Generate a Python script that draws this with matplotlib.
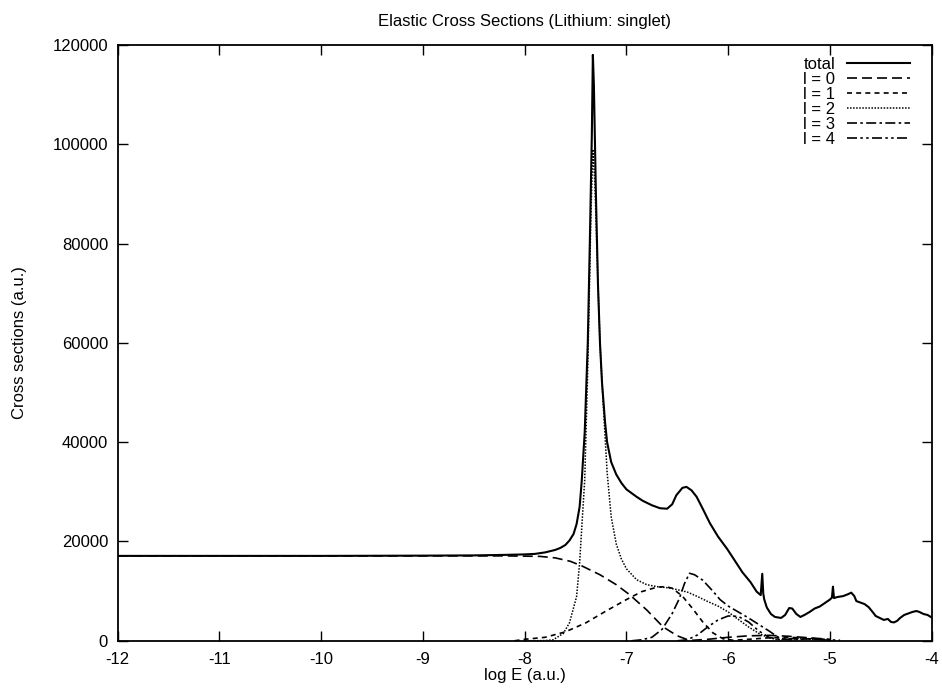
import matplotlib
matplotlib.use("Agg")
import matplotlib.pyplot as plt

plt.rcParams['font.family'] = ['Liberation Sans', 'DejaVu Sans']
plt.rcParams['axes.unicode_minus'] = False

# total cross section
x_total = [-12, -11, -10, -9, -8.5, -8.2, -8.0, -7.9, -7.8, -7.7, -7.65, -7.6, -7.56, -7.52,
           -7.49, -7.46, -7.44, -7.41, -7.38, -7.36, -7.34, -7.33, -7.32, -7.30, -7.28, -7.26,
           -7.24, -7.21, -7.19, -7.15, -7.10, -7.05, -7.0, -6.9, -6.84, -6.75, -6.67, -6.6,
           -6.55, -6.51, -6.45, -6.41, -6.36, -6.31, -6.25, -6.18, -6.1, -6.01, -5.93, -5.86,
           -5.78, -5.72, -5.68, -5.665, -5.655, -5.645, -5.62, -5.58, -5.54, -5.48, -5.44,
           -5.40, -5.37, -5.33, -5.29, -5.25, -5.2, -5.15, -5.1, -5.05, -5.0, -4.98, -4.97,
           -4.96, -4.93, -4.87, -4.82, -4.79, -4.76, -4.74, -4.70, -4.66, -4.62, -4.58, -4.55,
           -4.51, -4.47, -4.43, -4.40, -4.37, -4.34, -4.31, -4.27, -4.23, -4.19, -4.15, -4.12,
           -4.08, -4.04, -4.0]
y_total = [17100, 17100, 17100, 17150, 17200, 17300, 17400, 17500, 17800, 18300, 18700, 19300,
           20200, 21500, 23500, 27000, 32000, 42000, 60000, 80000, 102000, 118000, 112000,
           90000, 72000, 60000, 52000, 44000, 40000, 36000, 33500, 31800, 30500, 29000, 28200,
           27300, 26700, 26600, 27500, 29300, 30800, 31000, 30300, 29000, 26600, 23700, 21000,
           18500, 16000, 13800, 11800, 9900, 9200, 13500, 9500, 8300, 6700, 5400, 4800, 4600,
           5200, 6600, 6500, 5400, 4800, 5200, 5800, 6500, 6900, 7600, 8300, 8700, 10900, 8600,
           8800, 9000, 9400, 9700, 9000, 8000, 7700, 7400, 6800, 5800, 5000, 4600, 4200, 4400,
           3800, 3700, 4000, 4600, 5200, 5500, 5800, 6000, 5800, 5400, 5200, 4700]

# partial waves
x_l0 = [-12, -10, -9, -8.5, -8.2, -8.0, -7.85, -7.7, -7.55, -7.43, -7.26, -7.1, -6.97, -6.8,
        -6.64, -6.5, -6.41, -6.35, -6.2, -6.0, -5.8, -5.6, -5.4, -5.2, -5.0]
y_l0 = [17100, 17100, 17100, 17100, 17100, 17050, 17000, 16700, 16000, 15000, 13300, 11300,
        9300, 6200, 2800, 1000, 300, 100, 300, 700, 1000, 1100, 900, 600, 300]

x_l1 = [-8.1, -8.0, -7.8, -7.6, -7.4, -7.2, -7.0, -6.85, -6.7, -6.62, -6.55, -6.45, -6.35,
        -6.25, -6.15, -6.05, -5.95, -5.8, -5.6, -5.4, -5.2, -5.0]
y_l1 = [0, 300, 700, 1800, 3600, 6000, 8300, 9900, 10800, 10900, 10600, 9000, 6500, 3800,
        1600, 400, 100, 300, 600, 700, 500, 200]

x_l2 = [-8.0, -7.8, -7.72, -7.62, -7.56, -7.49, -7.46, -7.43, -7.41, -7.38, -7.35, -7.33,
        -7.31, -7.28, -7.26, -7.24, -7.19, -7.15, -7.10, -7.05, -7.0, -6.9, -6.8, -6.7, -6.6,
        -6.5, -6.4, -6.3, -6.2, -6.1, -6.0, -5.9, -5.8, -5.7, -5.6, -5.5, -5.3, -5.1]
y_l2 = [0, 50, 200, 1500, 3600, 8900, 15700, 25800, 32400, 55000, 85000, 99000, 92000, 72000,
        60000, 52000, 34000, 25000, 19500, 16500, 14500, 12300, 11300, 10900, 10700, 10300,
        9800, 8900, 7900, 7000, 5800, 4300, 2800, 1500, 600, 200, 400, 200]

x_l3 = [-6.95, -6.85, -6.75, -6.65, -6.55, -6.48, -6.43, -6.38, -6.33, -6.25, -6.15, -6.08,
        -6.0, -5.9, -5.8, -5.7, -5.6, -5.5, -5.4, -5.2, -5.0]
y_l3 = [0, 200, 700, 2300, 5500, 8500, 11500, 13600, 13300, 12200, 10000, 8300, 7000, 5800,
        4600, 3300, 2000, 600, 200, 400, 100]

x_l4 = [-6.5, -6.4, -6.3, -6.2, -6.1, -6.0, -5.9, -5.8, -5.7, -5.6, -5.5, -5.3, -5.1, -4.9]
y_l4 = [0, 200, 1200, 2800, 4200, 5000, 4900, 3800, 2000, 700, 300, 500, 300, 100]

x_ticks = [-12, -11, -10, -9, -8, -7, -6, -5, -4]
y_ticks = [0, 20000, 40000, 60000, 80000, 100000, 120000]

fig = plt.figure(figsize=(9.42, 6.92), dpi=100)
ax = fig.add_axes([0.125, 0.074, 0.864, 0.861])

ax.plot(x_total, y_total, color='black', lw=1.5, label='total')
ax.plot(x_l0, y_l0, color='black', lw=1.2, dashes=(6, 3), label='l = 0')
ax.plot(x_l1, y_l1, color='black', lw=1.2, dashes=(3, 2.5), label='l = 1')
ax.plot(x_l2, y_l2, color='black', lw=1.1, dashes=(1, 1), label='l = 2')
ax.plot(x_l3, y_l3, color='black', lw=1.2, dashes=(6, 2, 1.5, 2), label='l = 3')
ax.plot(x_l4, y_l4, color='black', lw=1.2, dashes=(6, 2, 1.5, 2, 1.5, 2), label='l = 4')

ax.set_xlim(-12, -4)
ax.set_ylim(0, 120000)
ax.set_xticks(x_ticks)
ax.set_yticks(y_ticks)
ax.tick_params(direction='in', top=True, right=True, length=7, width=1, labelsize=12)
ax.tick_params(axis='x', pad=8)
ax.tick_params(axis='y', pad=7)
for s in ax.spines.values():
    s.set_linewidth(1.3)

ax.set_xlabel('log E (a.u.)', fontsize=12, labelpad=1)
ax.set_ylabel('Cross sections (a.u.)', fontsize=12, labelpad=18)
ax.set_title('Elastic Cross Sections (Lithium: singlet)', fontsize=12, pad=14)

ax.legend(loc='upper right', bbox_to_anchor=(0.988, 1.0), frameon=False, markerfirst=False,
          fontsize=12, handlelength=3.8, labelspacing=0.0, borderaxespad=0.3,
          handletextpad=0.7)

fig.savefig('out.png', dpi=100)
